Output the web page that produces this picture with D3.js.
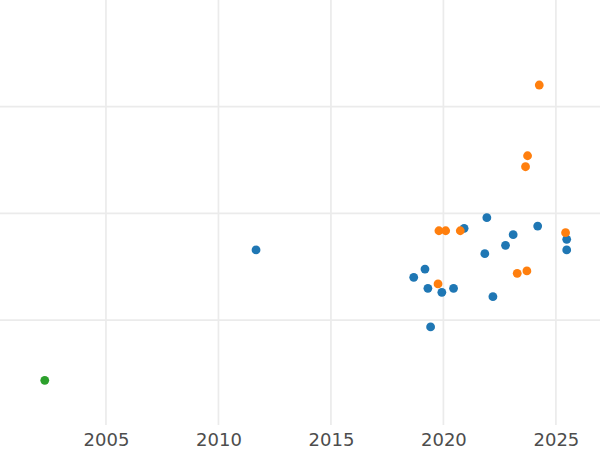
<!DOCTYPE html>
<html>
<head>
<meta charset="utf-8">
<script src="https://cdn.jsdelivr.net/npm/d3@7"></script>
<style>
  html, body { margin: 0; padding: 0; background: #fff; }
  svg { display: block; }
</style>
</head>
<body>
<svg id="chart" width="600" height="450"></svg>
<script>
// Data (year, value)
const blueYears  = [2011.67, 2018.68, 2019.18, 2019.31, 2019.43, 2019.93, 2020.45, 2020.92, 2021.84, 2021.93, 2022.20, 2022.76, 2023.10, 2024.19, 2025.48, 2025.48];
const blueValues = [1.657, 1.400, 1.478, 1.297, 0.935, 1.260, 1.297, 1.860, 1.622, 1.959, 1.219, 1.700, 1.800, 1.881, 1.757, 1.657];

const orangeYears  = [2019.80, 2020.10, 2020.75, 2019.76, 2023.28, 2023.71, 2023.65, 2023.74, 2024.26, 2025.43];
const orangeValues = [1.837, 1.837, 1.837, 1.338, 1.438, 1.460, 2.437, 2.540, 3.203, 1.819];

const greenYears  = [2002.28];
const greenValues = [0.435];

const xTicks = [2005, 2010, 2015, 2020, 2025];
const yGrid  = [1, 2, 3];

const series = [
  { color: "#1f77b4", xs: blueYears,   ys: blueValues },
  { color: "#ff7f0e", xs: orangeYears, ys: orangeValues },
  { color: "#2ca02c", xs: greenYears,  ys: greenValues }
];

const W = 600, H = 450;
const plotBottom = 426.7;

const x = d3.scaleLinear().domain([2000.29, 2026.96]).range([0, W]);
const y = d3.scaleLinear().domain([0, 4]).range([plotBottom, 0]);

const svg = d3.select("#chart");

// gridlines
svg.append("g").selectAll("line.h").data(yGrid).join("line")
  .attr("x1", 0).attr("x2", W)
  .attr("y1", d => y(d)).attr("y2", d => y(d))
  .attr("stroke", "#ebebeb").attr("stroke-width", 1.7);

svg.append("g").selectAll("line.v").data(xTicks).join("line")
  .attr("x1", d => x(d)).attr("x2", d => x(d))
  .attr("y1", 0).attr("y2", 425)
  .attr("stroke", "#ebebeb").attr("stroke-width", 1.7);

// x axis labels
const xAxis = d3.axisBottom(x).tickValues(xTicks).tickFormat(d3.format("d")).tickSize(0).tickPadding(7);
const gx = svg.append("g").attr("transform", `translate(0,${plotBottom})`).call(xAxis);
gx.select(".domain").remove();
gx.selectAll("text")
  .attr("fill", "#4d4d4d")
  .style("font-family", "'DejaVu Sans', sans-serif")
  .style("font-size", "18px");

// points
series.forEach(s => {
  svg.append("g").selectAll("circle").data(s.xs.map((v, i) => [v, s.ys[i]])).join("circle")
    .attr("cx", d => x(d[0]))
    .attr("cy", d => y(d[1]))
    .attr("r", 4.4)
    .attr("fill", s.color);
});
</script>
</body>
</html>
